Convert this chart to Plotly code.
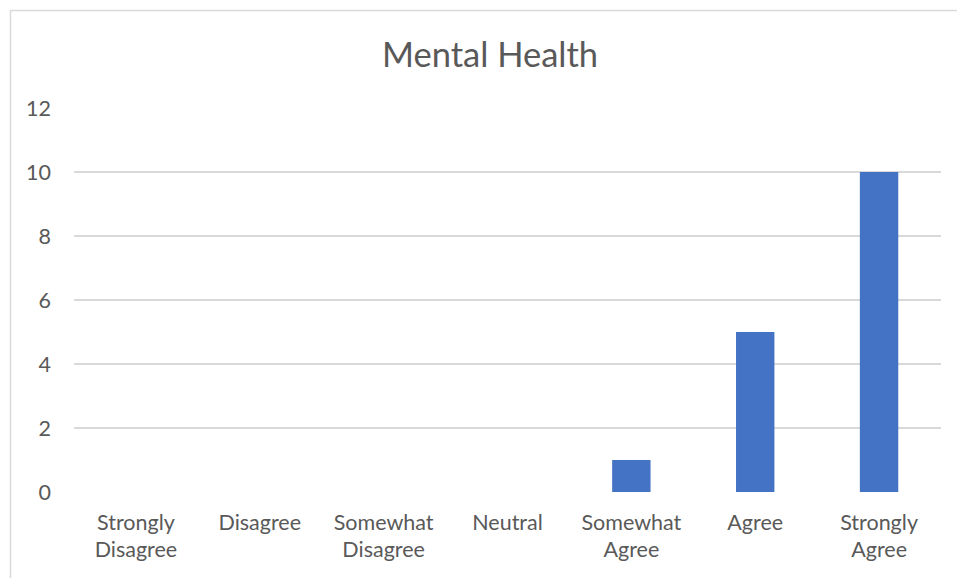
import plotly.graph_objects as go

categories = ["Strongly<br>Disagree", "Disagree", "Somewhat<br>Disagree", "Neutral",
              "Somewhat<br>Agree", "Agree", "Strongly<br>Agree"]
counts = [0, 0, 0, 0, 1, 5, 10]
y_ticks = [0, 2, 4, 6, 8, 10, 12]

W, H = 957, 578
L, R, T, B = 74, 16, 108, 86
pw, ph = W - L - R, H - T - B

fig = go.Figure(go.Bar(x=categories, y=counts, marker=dict(color="#4472C4", line=dict(width=0))))

fig.update_layout(
    width=W, height=H,
    margin=dict(l=L, r=R, t=T, b=B),
    paper_bgcolor="white", plot_bgcolor="white",
    font=dict(family="Lato, Open Sans, sans-serif", color="#595959", size=21.5),
    title=dict(text="Mental Health", xref="paper", x=(490 - L) / pw, xanchor="center",
               y=1 - 55 / H, yanchor="middle", font=dict(size=34.5, color="#595959")),
    bargap=0.69,
    showlegend=False,
    xaxis=dict(showgrid=False, showline=False, ticks="", ticklabelstandoff=15),
    yaxis=dict(range=[0, 12], tickvals=y_ticks, showgrid=True, gridcolor="#d9d9d9", gridwidth=1.5,
               zeroline=False, showline=False, ticks="", ticklabelstandoff=22),
    shapes=[dict(type="rect", xref="paper", yref="paper",
                 x0=(10.5 - L) / pw, x1=(W + 20 - L) / pw,
                 y0=-(B + 20) / ph, y1=1 + (T - 10.5) / ph,
                 line=dict(color="#d9d9d9", width=1.5), fillcolor="rgba(0,0,0,0)", layer="below")],
)

fig.write_html("out.html")
